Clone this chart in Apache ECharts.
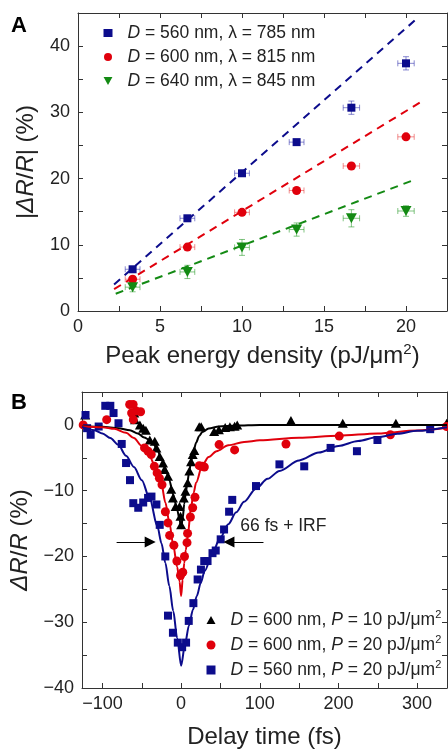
<!DOCTYPE html>
<html><head><meta charset="utf-8">
<script src="https://cdn.jsdelivr.net/npm/echarts@6/dist/echarts.min.js"></script>
<style>html,body{margin:0;padding:0;background:#fff}#c{width:448px;height:750px}</style>
</head><body><div id="c"></div>
<script>
// ---------- Panel A data ----------
const energyA = [3.33, 6.67, 10, 13.33, 16.67, 20];
const energyErr = [0.45, 0.45, 0.45, 0.45, 0.5, 0.5];
const d560 = [6.3, 14.0, 20.8, 25.5, 30.7, 37.4];
const d560Err = [0.3, 0.3, 0.3, 0.4, 1.0, 1.0];
const d600 = [4.8, 9.65, 14.9, 18.2, 21.9, 26.3];
const d600Err = [0.3, 0.3, 0.3, 0.4, 0.3, 0.3];
const d640 = [3.6, 5.9, 9.6, 12.3, 14.0, 15.1];
const d640Err = [0.7, 1.0, 1.2, 1.0, 1.3, 0.8];
const fit560X = [2.2, 20.55], fit560Y = [4.0, 43.9];
const fit600X = [2.2, 21.0],  fit600Y = [3.3, 31.7];
const fit640X = [2.3, 20.6],  fit640Y = [2.6, 19.9];
const namesA = ['D = 560 nm, λ = 785 nm', 'D = 600 nm, λ = 815 nm', 'D = 640 nm, λ = 845 nm'];
const xTicksA = [0, 5, 10, 15, 20];
const xTicksAll_A = [0, 2.5, 5, 7.5, 10, 12.5, 15, 17.5, 20];
const yTicksA = [0, 10, 20, 30, 40];
const yTicksAll_A = [0, 5, 10, 15, 20, 25, 30, 35, 40];

// ---------- Panel B data ----------
const blackPts = [[-122,1.5],[-59.5,1.8],[-58.6,0.8],[-52.4,0],[-48.2,-0.5],[-44.8,-0.8],[-39.8,-2.3],[-33.5,-2.5],[-31.4,-3.5],[-27.2,-4.8],[-23,-5.8],[-21,-6.8],[-16.7,-7.8],[-12.6,-9.8],[-10.4,-11.1],[-7,-12.4],[-2,-12.4],[-0.8,-13.9],[0,-15.2],[3.4,-11.1],[5.5,-10.1],[8.4,-8.8],[10.5,-7.0],[12.6,-5.6],[14.7,-4.5],[16.8,-3.9],[23,-0.3],[25.5,-0.3],[42,-1.0],[48,-0.75],[56,-0.4],[62,-0.3],[68,-0.2],[71.3,0],[139.6,0.65],[205.5,0.25],[273,0.25],[337.6,0.25]];
const redPts = [[-124.5,0],[-94.6,0.8],[-65.4,3.1],[-61,3.1],[-62.9,1.8],[-60.8,0.8],[-57,2.1],[-51.5,2.0],[-46.5,-3.5],[-42,-4.0],[-38,-4.5],[-34,-6.3],[-30.5,-7.3],[-27.6,-8.1],[-24.3,-9.1],[-20,-13.2],[-16.7,-14.9],[-14.6,-16.8],[-9.2,-18.3],[-5.4,-20.7],[-0.8,-22.9],[2.1,-22.4],[4.3,-20],[7.5,-17.9],[8.2,-16.5],[11.8,-14.0],[14.7,-12.6],[17.6,-11],[23.1,-6.2],[27.3,-6.3],[29.5,-6.4],[48.3,-3.0],[68,-3.8],[133.3,-2.9],[201,-1.7],[266,-1.5],[337.6,-0.25]];
const bluePts = [[-121.5,1.5],[-119.5,-0.5],[-115,-1.5],[-104.8,-0.25],[-96.4,2.9],[-90,2.9],[-85.9,1.8],[-79.6,0.25],[-75.5,-2.9],[-70,-5.8],[-65,-8.4],[-60.8,-11.9],[-54.5,-12.6],[-48.2,-11.8],[-42,-11.1],[-37.7,-10.9],[-31.4,-12.1],[-27.2,-15.2],[-20.1,-20],[-16.7,-29],[-10.4,-31.6],[-4.2,-33.1],[1.3,-33.8],[6.3,-33.1],[9.7,-29.8],[15.6,-27.1],[21,-23.5],[25.2,-22],[29.4,-20.7],[33.6,-20.7],[39.9,-19.5],[44,-19.1],[50.3,-17.4],[54.6,-15.9],[61,-13.2],[65,-11.4],[95.2,-9.3],[125,-6.0],[156.5,-6.3],[190,-3.5],[223.5,-4.0],[249.6,-2.3],[316.6,-0.65]];
const blackFit = [[-126,-0.15],[-100,-0.3],[-80,-0.5],[-65,-0.8],[-55,-1.3],[-47,-1.9],[-40,-2.3],[-35,-2.9],[-30,-3.9],[-25,-5.2],[-20,-6.6],[-15,-8.4],[-10,-10.6],[-5,-12.9],[-2,-14.4],[0,-15.7],[2,-14.2],[4,-12],[6,-10.3],[8,-8.7],[10,-7.3],[12.6,-5.6],[16,-3.9],[19,-2.7],[23,-1.7],[27,-1.1],[35,-0.55],[48,-0.25],[70,-0.1],[100,0],[338,0]];
const redFit = [[-126,-0.2],[-100,-0.35],[-85,-0.6],[-70,-1.2],[-60,-2.0],[-50,-3.2],[-40,-4.8],[-30,-7.3],[-25,-9.0],[-20,-11.8],[-15,-14.8],[-10,-18.3],[-5,-21.6],[-2,-23.8],[0,-26],[2,-23.5],[4,-21],[6,-19],[8.4,-16.9],[12.6,-12.5],[16,-10.3],[19,-8.8],[27,-6.1],[35,-4.9],[45,-4.0],[60,-3.1],[80,-2.6],[100,-2.35],[150,-1.95],[200,-1.65],[250,-1.3],[300,-0.85],[338,-0.45]];
const blueFit = [[-126,-0.3],[-110,-0.8],[-100,-1.3],[-90,-2.0],[-80,-3.0],[-70,-4.7],[-60,-6.4],[-50,-8.4],[-40,-11.2],[-30,-15.5],[-25,-18],[-20,-21],[-15,-24.5],[-10,-28.3],[-5,-32.4],[0,-36.6],[5,-33.3],[10,-30.5],[15,-28.1],[20,-26],[25,-24],[30,-22.2],[40,-19.4],[50,-17.1],[60,-15.1],[70,-13.3],[80,-11.7],[95,-9.7],[110,-8.2],[125,-7.0],[150,-5.4],[175,-4.2],[200,-3.2],[225,-2.45],[250,-1.85],[275,-1.35],[300,-0.9],[338,-0.35]];
const namesB = ['D = 600 nm, P = 10 pJ/μm2', 'D = 600 nm, P = 20 pJ/μm2', 'D = 560 nm, P = 20 pJ/μm2'];
const xTicksB = [-100, 0, 100, 200, 300];
const xTicksAll_B = [-100, -50, 0, 50, 100, 150, 200, 250, 300];
const yTicksB = [-40, -30, -20, -10, 0];
const yTicksAll_B = [-40, -35, -30, -25, -20, -15, -10, -5, 0];
const arrows = [[[-82, -17.8], [-39.3, -17.8]], [[104.7, -17.8], [60.8, -17.8]]];
const annotText = '66 fs + IRF', annotPos = [130, -15.4];

// ---------- styling ----------
const FONT = 'Liberation Sans, Arial, sans-serif';
const AX = '#333';
const C_BLUE = '#0c0c8c', C_RED = '#e0000c', C_GREEN = '#138a13', C_BLACK = '#000';
const TRI_DOWN = 'path://M0,0 L10,0 L5,9 Z';
const TRI_UP = 'path://M5,0 L10,9 L0,9 Z';

function minus(v){ return v < 0 ? '\u2212' + (-v) : String(v); }

function axis(o){
  return Object.assign({
    type: 'value',
    axisLine: {show: true, onZero: false, lineStyle: {color: AX, width: 1}},
    axisTick: {show: true, inside: true, length: 5, lineStyle: {color: AX}},
    splitLine: {show: false},
    axisLabel: {show: false}
  }, o);
}
function labels(vals, margin){
  return {show: true, customValues: vals, fontSize: 18, color: '#222', fontFamily: FONT, margin: margin, formatter: minus};
}
function ticks(vals){
  return {show: true, inside: true, length: 5, customValues: vals, lineStyle: {color: AX}};
}
const richBase = {
  n: {fontSize: 17.5, fontFamily: FONT, color: '#222', lineHeight: 22},
  i: {fontSize: 17.5, fontFamily: FONT, color: '#222', fontStyle: 'italic', lineHeight: 22},
  sup: {fontSize: 11, fontFamily: FONT, color: '#222', verticalAlign: 'top', lineHeight: 22}
};
function legFmt(name){
  let s = name.replace(/^D/, '{i|D}{n|').replace(', P =', '}{n|, }{i|P}{n| =').replace(/μm2$/, 'μm}{sup|2}');
  if (!/\}$/.test(s)) s += '}';
  return s;
}

function errRender(color){
  return function(params, api){
    const x = api.value(0), y = api.value(1), ex = api.value(2), ey = api.value(3);
    const c = api.coord([x, y]);
    const l = api.coord([x - ex, y]), r = api.coord([x + ex, y]);
    const t = api.coord([x, y + ey]), b = api.coord([x, y - ey]);
    const cap = 3, st = {stroke: color, lineWidth: 1};
    return {type: 'group', children: [
      {type: 'line', shape: {x1: l[0], y1: c[1], x2: r[0], y2: c[1]}, style: st},
      {type: 'line', shape: {x1: l[0], y1: c[1] - cap, x2: l[0], y2: c[1] + cap}, style: st},
      {type: 'line', shape: {x1: r[0], y1: c[1] - cap, x2: r[0], y2: c[1] + cap}, style: st},
      {type: 'line', shape: {x1: c[0], y1: t[1], x2: c[0], y2: b[1]}, style: st},
      {type: 'line', shape: {x1: c[0] - cap, y1: t[1], x2: c[0] + cap, y2: t[1]}, style: st},
      {type: 'line', shape: {x1: c[0] - cap, y1: b[1], x2: c[0] + cap, y2: b[1]}, style: st}
    ]};
  };
}
const zipA = (ys) => energyA.map((x, k) => [x, ys[k]]);
const zipErr = (ys, es) => energyA.map((x, k) => [x, ys[k], energyErr[k], es[k]]);
const zip2 = (xs, ys) => xs.map((x, k) => [x, ys[k]]);

const chart = echarts.init(document.getElementById('c'), null, {renderer: 'canvas'});
const option = {
  backgroundColor: '#fff',
  animation: false,
  textStyle: {fontFamily: FONT},
  grid: [
    {left: 78, top: 13, width: 369, height: 298},
    {left: 78, top: 392, width: 369, height: 297}
  ],
  xAxis: [
    axis({gridIndex: 0, position: 'bottom', min: 0, max: 22.5,
      axisLabel: labels(xTicksA, 7), axisTick: ticks(xTicksAll_A),
      name: 'Peak energy density (pJ/μm{sup|2})', nameLocation: 'middle', nameGap: 31,
      nameTextStyle: {fontSize: 24, fontFamily: FONT, color: '#222',
        rich: {sup: {fontSize: 15, fontFamily: FONT, color: '#222', verticalAlign: 'top', lineHeight: 28}}}}),
    axis({gridIndex: 0, position: 'top', min: 0, max: 22.5, axisTick: ticks(xTicksAll_A)}),
    axis({gridIndex: 1, position: 'bottom', min: -126, max: 338,
      axisLabel: labels(xTicksB, 7), axisTick: ticks(xTicksAll_B),
      name: 'Delay time (fs)', nameLocation: 'middle', nameGap: 37,
      nameTextStyle: {fontSize: 24, fontFamily: FONT, color: '#222'}}),
    axis({gridIndex: 1, position: 'top', min: -126, max: 338, axisTick: ticks(xTicksAll_B)})
  ],
  yAxis: [
    axis({gridIndex: 0, position: 'left', min: 0, max: 45,
      axisLabel: labels(yTicksA, 8), axisTick: ticks(yTicksAll_A),
      name: '|{i|ΔR}/{i|R}| (%)', nameLocation: 'middle', nameGap: 40,
      nameTextStyle: {fontSize: 24, fontFamily: FONT, color: '#222',
        rich: {i: {fontSize: 24, fontFamily: FONT, color: '#222', fontStyle: 'italic'}}}}),
    axis({gridIndex: 0, position: 'right', min: 0, max: 45, axisTick: ticks(yTicksAll_A)}),
    axis({gridIndex: 1, position: 'left', min: -40, max: 5,
      axisLabel: labels(yTicksB, 8), axisTick: ticks(yTicksAll_B),
      name: '{i|ΔR}/{i|R} (%)', nameLocation: 'middle', nameGap: 50,
      nameTextStyle: {fontSize: 24, fontFamily: FONT, color: '#222',
        rich: {i: {fontSize: 24, fontFamily: FONT, color: '#222', fontStyle: 'italic'}}}}),
    axis({gridIndex: 1, position: 'right', min: -40, max: 5, axisTick: ticks(yTicksAll_B)})
  ],
  legend: [
    {data: namesA, orient: 'vertical', left: 98.5, top: 19, itemWidth: 9, itemHeight: 8, itemGap: 6,
     formatter: legFmt, textStyle: {padding: [0, 0, 0, 10], rich: richBase}, selectedMode: false},
    {data: namesB, orient: 'vertical', left: 201.5, top: 604, itemWidth: 9, itemHeight: 9, itemGap: 5,
     formatter: legFmt, textStyle: {padding: [0, 0, 0, 10], rich: richBase}, selectedMode: false}
  ],
  series: [
    // Panel A fits
    {type: 'line', xAxisIndex: 0, yAxisIndex: 0, data: zip2(fit560X, fit560Y), symbol: 'none', lineStyle: {color: C_BLUE, width: 2, type: [8, 6]}, z: 1},
    {type: 'line', xAxisIndex: 0, yAxisIndex: 0, data: zip2(fit600X, fit600Y), symbol: 'none', lineStyle: {color: C_RED, width: 2, type: [8, 6]}, z: 1},
    {type: 'line', xAxisIndex: 0, yAxisIndex: 0, data: zip2(fit640X, fit640Y), symbol: 'none', lineStyle: {color: C_GREEN, width: 2, type: [8, 6]}, z: 1},
    // Panel A error bars
    {type: 'custom', xAxisIndex: 0, yAxisIndex: 0, data: zipErr(d560, d560Err), renderItem: errRender('rgba(40,40,170,0.55)'), encode: {x: 0, y: 1}, z: 2},
    {type: 'custom', xAxisIndex: 0, yAxisIndex: 0, data: zipErr(d600, d600Err), renderItem: errRender('rgba(230,50,50,0.55)'), encode: {x: 0, y: 1}, z: 2},
    {type: 'custom', xAxisIndex: 0, yAxisIndex: 0, data: zipErr(d640, d640Err), renderItem: errRender('rgba(30,150,30,0.55)'), encode: {x: 0, y: 1}, z: 2},
    // Panel A points
    {name: namesA[0], type: 'scatter', xAxisIndex: 0, yAxisIndex: 0, data: zipA(d560), symbol: 'rect', symbolSize: 8, itemStyle: {color: C_BLUE, opacity: 1}, z: 3},
    {name: namesA[1], type: 'scatter', xAxisIndex: 0, yAxisIndex: 0, data: zipA(d600), symbol: 'circle', symbolSize: 9, itemStyle: {color: C_RED, opacity: 1}, z: 3},
    {name: namesA[2], type: 'scatter', xAxisIndex: 0, yAxisIndex: 0, data: zipA(d640), symbol: TRI_DOWN, symbolSize: [11, 10], itemStyle: {color: C_GREEN, opacity: 1}, z: 3},
    // Panel B points
    {name: namesB[0], type: 'scatter', xAxisIndex: 2, yAxisIndex: 2, data: blackPts, symbol: TRI_UP, symbolSize: [10, 9], itemStyle: {color: C_BLACK, opacity: 1}, z: 3},
    {name: namesB[1], type: 'scatter', xAxisIndex: 2, yAxisIndex: 2, data: redPts, symbol: 'circle', symbolSize: 9, itemStyle: {color: C_RED, opacity: 1}, z: 3},
    {name: namesB[2], type: 'scatter', xAxisIndex: 2, yAxisIndex: 2, data: bluePts, symbol: 'rect', symbolSize: 8, itemStyle: {color: C_BLUE, opacity: 1}, z: 3},
    // Panel B fits
    {type: 'line', xAxisIndex: 2, yAxisIndex: 2, data: blackFit, symbol: 'none', smooth: 0.3, smoothMonotone: 'x', lineStyle: {color: C_BLACK, width: 2}, z: 4},
    {type: 'line', xAxisIndex: 2, yAxisIndex: 2, data: redFit, symbol: 'none', smooth: 0.3, smoothMonotone: 'x', lineStyle: {color: C_RED, width: 2}, z: 4},
    {type: 'line', xAxisIndex: 2, yAxisIndex: 2, data: blueFit, symbol: 'none', smooth: 0.3, smoothMonotone: 'x', lineStyle: {color: C_BLUE, width: 2}, z: 4},
    // arrows
    {type: 'lines', coordinateSystem: 'cartesian2d', xAxisIndex: 2, yAxisIndex: 2,
     data: arrows.map(a => ({coords: a})), symbol: ['none', 'triangle'], symbolSize: [9, 11],
     lineStyle: {color: '#000', width: 1, opacity: 1}, z: 5}
  ]
};
chart.setOption(option);
const ap = chart.convertToPixel({xAxisIndex: 2, yAxisIndex: 2}, annotPos);
chart.setOption({graphic: [
  {type: 'text', left: 11, top: 15, style: {text: 'A', font: 'bold 22px ' + FONT, fill: '#000'}},
  {type: 'text', left: 11, top: 392, style: {text: 'B', font: 'bold 22px ' + FONT, fill: '#000'}},
  {type: 'text', x: ap[0], y: ap[1], style: {text: annotText, font: '17.5px ' + FONT, fill: '#222', align: 'center', verticalAlign: 'middle'}}
]});
</script></body></html>
